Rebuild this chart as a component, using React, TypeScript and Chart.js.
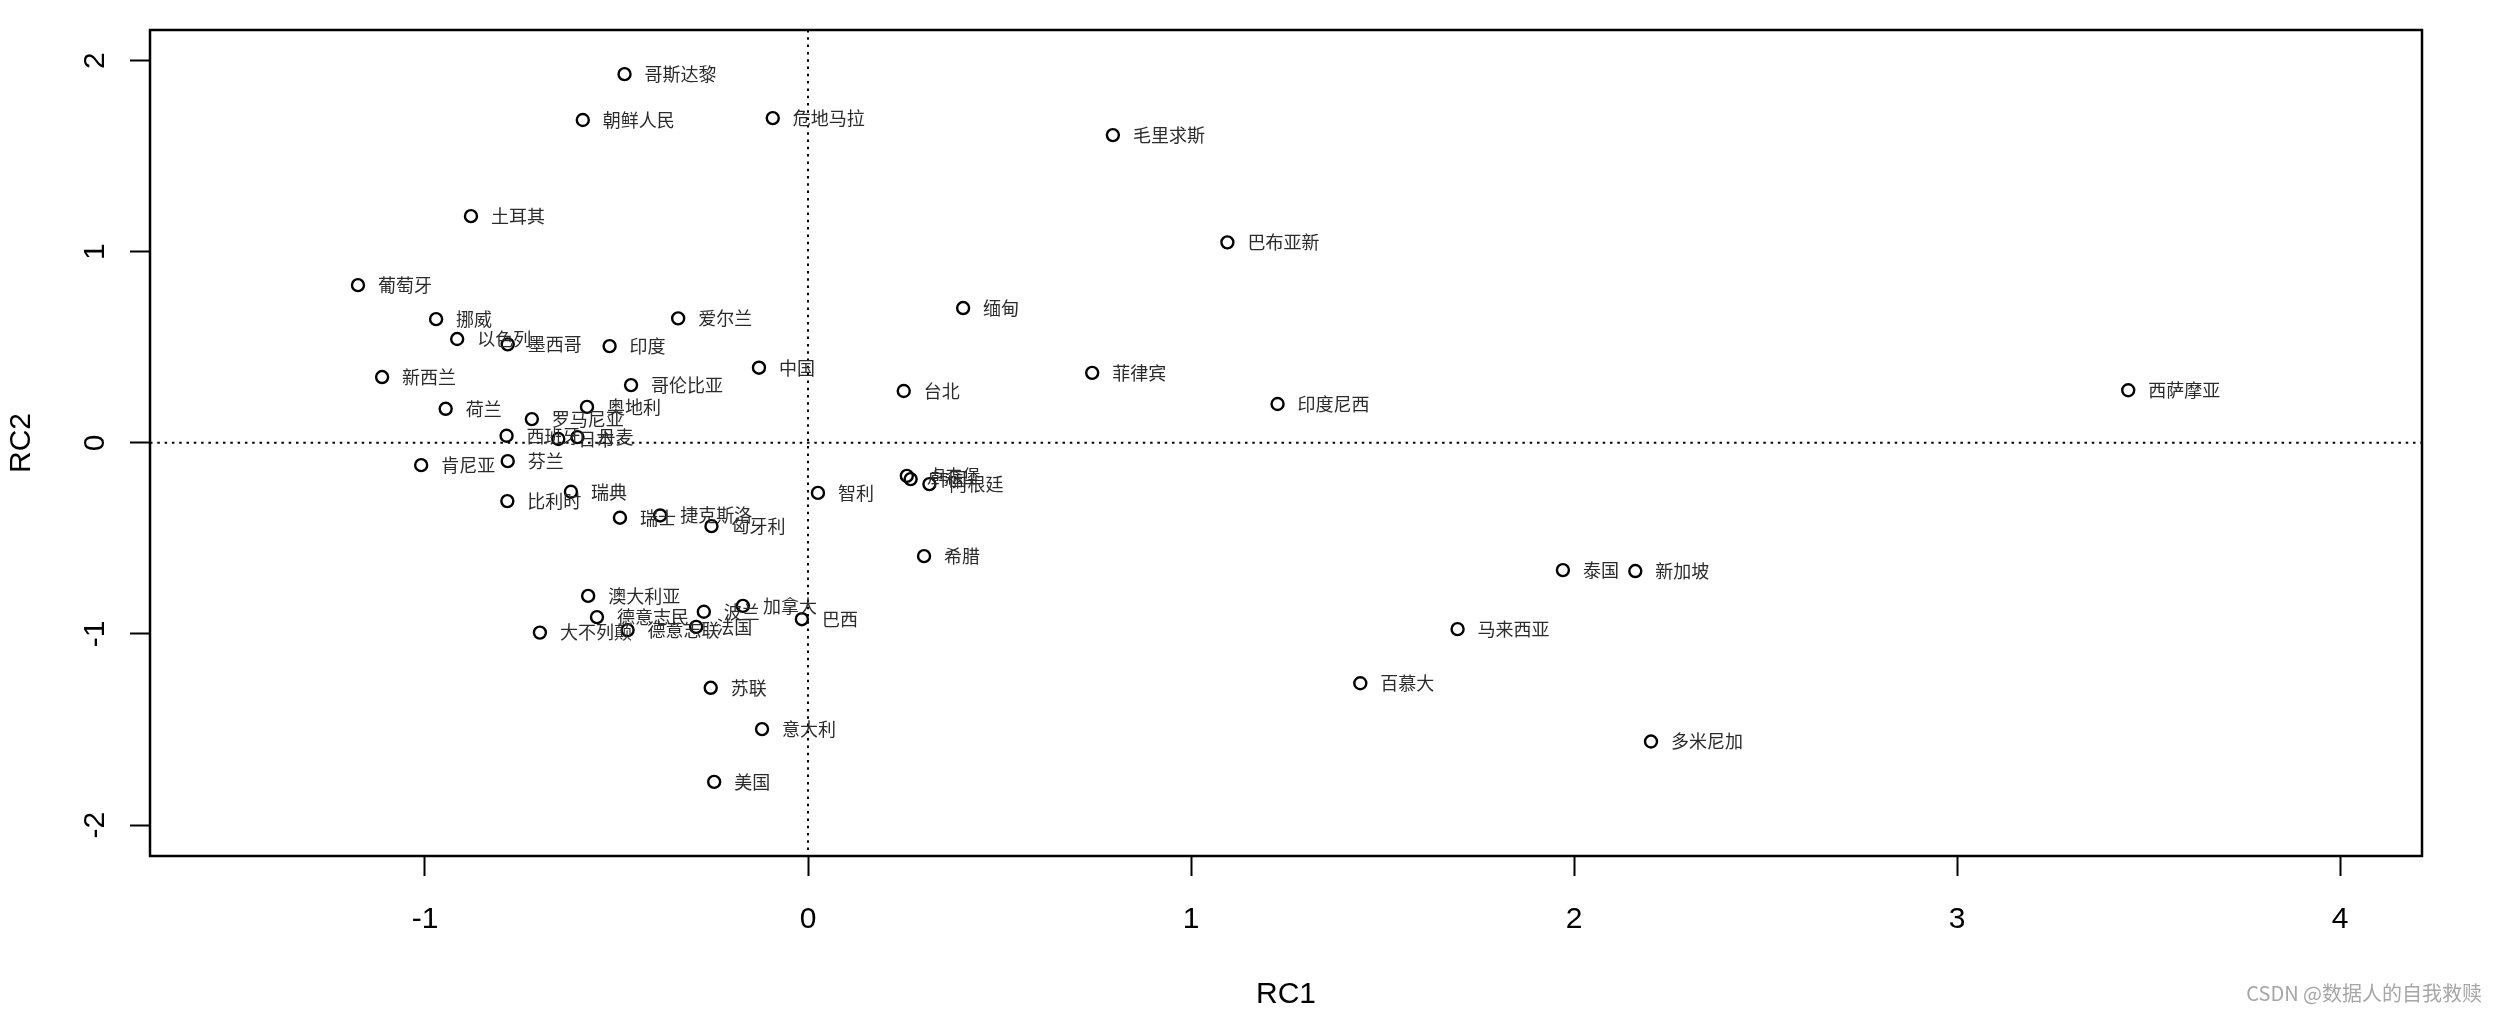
import React, { useEffect, useRef } from "react";
import { Chart, registerables } from "chart.js";

Chart.register(...registerables);

const names = [
  "哥斯达黎", "朝鲜人民", "危地马拉", "毛里求斯", "土耳其", "巴布亚新", "葡萄牙", "挪威", "爱尔兰", "缅甸",
  "以色列", "墨西哥", "印度", "中国", "新西兰", "哥伦比亚", "菲律宾", "台北", "西萨摩亚", "荷兰",
  "奥地利", "印度尼西", "罗马尼亚", "西班牙", "日本", "丹麦", "肯尼亚", "芬兰", "卢森堡", "韩国",
  "阿根廷", "智利", "瑞典", "比利时", "瑞士", "捷克斯洛", "匈牙利", "希腊", "泰国", "新加坡",
  "澳大利亚", "德意志民", "波兰", "加拿大", "巴西", "大不列颠", "德意志联", "法国", "马来西亚", "苏联",
  "百慕大", "意大利", "多米尼加", "美国",
];

const rc1 = [
  -0.479, -0.588, -0.092, 0.796, -0.88, 1.095, -1.175, -0.971, -0.339, 0.405,
  -0.916, -0.784, -0.518, -0.128, -1.112, -0.462, 0.742, 0.25, 3.447, -0.946,
  -0.577, 1.226, -0.721, -0.787, -0.652, -0.602, -1.01, -0.784, 0.258, 0.268,
  0.317, 0.026, -0.619, -0.785, -0.491, -0.386, -0.252, 0.303, 1.971, 2.16,
  -0.574, -0.551, -0.272, -0.17, -0.016, -0.7, -0.471, -0.292, 1.696, -0.254,
  1.442, -0.12, 2.201, -0.245,
];

const rc2 = [
  1.929, 1.689, 1.699, 1.61, 1.186, 1.049, 0.825, 0.647, 0.651, 0.705,
  0.543, 0.515, 0.506, 0.393, 0.344, 0.302, 0.366, 0.271, 0.275, 0.178,
  0.188, 0.203, 0.124, 0.037, 0.02, 0.03, -0.117, -0.096, -0.173, -0.19,
  -0.216, -0.262, -0.256, -0.305, -0.392, -0.38, -0.436, -0.593, -0.666, -0.671,
  -0.801, -0.912, -0.884, -0.853, -0.923, -0.993, -0.98, -0.963, -0.975, -1.282,
  -1.258, -1.498, -1.563, -1.774,
];

const xTickValues = [-1, 0, 1, 2, 3, 4];
const yTickValues = [-2, -1, 0, 1, 2];
const xTitle = "RC1";
const yTitle = "RC2";
const watermark = "CSDN @数据人的自我救赎";

const W = 2498;
const H = 1010;
const AXIS_FONT = '30px "Liberation Sans", Arial, sans-serif';
const LABEL_FONT = '18px "Noto Sans CJK SC", sans-serif';

export default function App() {
  const ref = useRef<HTMLCanvasElement>(null);

  useEffect(() => {
    const canvas = ref.current;
    if (!canvas) return;

    const decor = {
      id: "decor",
      beforeDatasetsDraw(chart: any) {
        const { ctx, chartArea: a, scales } = chart;
        const px = scales.x.getPixelForValue(0);
        const py = scales.y.getPixelForValue(0);
        ctx.save();
        ctx.strokeStyle = "#000";
        ctx.lineWidth = 2;
        ctx.setLineDash([2.5, 4.8]);
        ctx.beginPath();
        ctx.moveTo(px, a.top);
        ctx.lineTo(px, a.bottom);
        ctx.stroke();
        ctx.beginPath();
        ctx.moveTo(a.left, py);
        ctx.lineTo(a.right, py);
        ctx.stroke();
        ctx.restore();
      },
      afterDatasetsDraw(chart: any) {
        const { ctx } = chart;
        const meta = chart.getDatasetMeta(0);
        ctx.save();
        ctx.font = LABEL_FONT;
        ctx.fillStyle = "#2b2b2b";
        ctx.textAlign = "left";
        ctx.textBaseline = "middle";
        meta.data.forEach((el: any, i: number) => {
          ctx.fillText(names[i], el.x + 20, el.y);
        });
        ctx.restore();
      },
      afterDraw(chart: any) {
        const { ctx, chartArea: a, scales } = chart;
        ctx.save();
        ctx.strokeStyle = "#000";
        ctx.lineWidth = 2.5;
        ctx.strokeRect(a.left, a.top, a.right - a.left, a.bottom - a.top);
        ctx.fillStyle = "#000";
        ctx.font = AXIS_FONT;
        ctx.textAlign = "center";
        ctx.textBaseline = "middle";
        scales.x.ticks.forEach((t: any) => {
          ctx.fillText(String(t.value), scales.x.getPixelForValue(t.value), 920);
        });
        scales.y.ticks.forEach((t: any) => {
          const py = scales.y.getPixelForValue(t.value);
          ctx.save();
          ctx.translate(96, py);
          ctx.rotate(-Math.PI / 2);
          ctx.fillText(String(t.value), 0, 0);
          ctx.restore();
        });
        ctx.fillText(xTitle, (a.left + a.right) / 2, 995);
        ctx.save();
        ctx.translate(22, (a.top + a.bottom) / 2);
        ctx.rotate(-Math.PI / 2);
        ctx.fillText(yTitle, 0, 0);
        ctx.restore();
        ctx.font = '20px "Noto Sans CJK SC", sans-serif';
        ctx.fillStyle = "#a6a6a6";
        ctx.textAlign = "right";
        ctx.fillText(watermark, 2482, 993);
        ctx.restore();
      },
    };

    const tickGrid = {
      display: true,
      drawOnChartArea: false,
      drawTicks: true,
      tickLength: 20,
      tickWidth: 2,
      tickColor: "#000",
    };

    const chart = new Chart(canvas, {
      type: "scatter",
      data: {
        datasets: [
          {
            data: rc1.map((v, i) => ({ x: v, y: rc2[i] })),
            pointStyle: "circle",
            radius: 6,
            borderWidth: 2.4,
            borderColor: "#000",
            backgroundColor: "rgba(0,0,0,0)",
            showLine: false,
          },
        ],
      },
      options: {
        responsive: false,
        animation: false,
        devicePixelRatio: 1,
        layout: { padding: { top: 30, right: 76, left: 0, bottom: 0 } },
        plugins: {
          legend: { display: false },
          tooltip: { enabled: false },
          title: { display: false },
        },
        scales: {
          x: {
            type: "linear",
            min: -1.718,
            max: 4.214,
            afterBuildTicks: (s: any) => {
              s.ticks = xTickValues.map((v) => ({ value: v }));
            },
            afterFit: (s: any) => {
              s.height = 154;
            },
            ticks: { display: false },
            grid: tickGrid,
            border: { display: false },
          },
          y: {
            type: "linear",
            min: -2.162,
            max: 2.16,
            afterBuildTicks: (s: any) => {
              s.ticks = yTickValues.map((v) => ({ value: v }));
            },
            afterFit: (s: any) => {
              s.width = 150;
            },
            ticks: { display: false },
            grid: tickGrid,
            border: { display: false },
          },
        },
      },
      plugins: [decor],
    } as any);

    return () => chart.destroy();
  }, []);

  return (
    <div style={{ position: "fixed", left: 0, top: 0, width: W, height: H, background: "#fff" }}>
      <canvas ref={ref} width={W} height={H} style={{ display: "block", width: W, height: H }} />
    </div>
  );
}
